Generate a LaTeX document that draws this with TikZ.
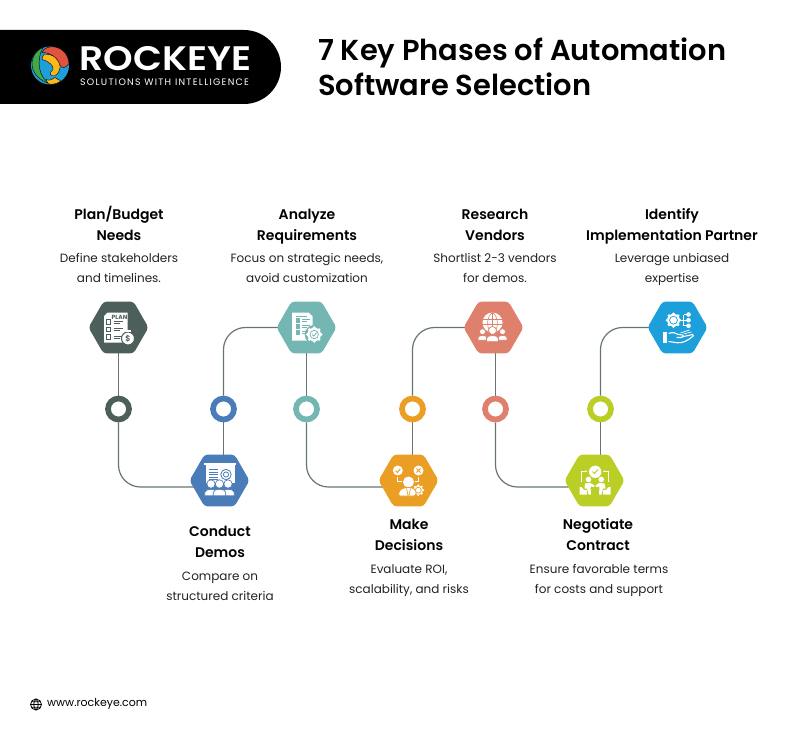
\documentclass[tikz,border=0pt]{standalone}
\usepackage{fontspec}
\setmainfont{Poppins}
\newfontfamily\semibold{Poppins SemiBold}
\usetikzlibrary{shapes.geometric,arrows.meta,backgrounds}
\definecolor{planGrey}{HTML}{4D5F5A}
\definecolor{demoBlue}{HTML}{4A7DB8}
\definecolor{reqTeal}{HTML}{74B6B2}
\definecolor{decOrange}{HTML}{EA9E24}
\definecolor{venSalmon}{HTML}{DF806C}
\definecolor{conLime}{HTML}{BBCE25}
\definecolor{parBlue}{HTML}{1C9FDB}
\definecolor{lineGrey}{HTML}{66766F}
\definecolor{bodyInk}{HTML}{222222}
\definecolor{logoRed}{HTML}{E2533F}
\definecolor{logoGreen}{HTML}{45A848}
\definecolor{logoGold}{HTML}{FBB91C}
\tikzset{
  hexnode/.style={regular polygon,regular polygon sides=6,minimum size=60pt,inner sep=0pt,outer sep=0pt,rounded corners=3.5pt,fill=#1},
  ringnode/.style={circle,draw=#1,line width=5.7pt,fill=white,minimum size=21pt,inner sep=0pt,outer sep=2.8pt},
  headnode/.style={font=\semibold\fontsize{14}{21}\selectfont,align=center,text=black,anchor=base},
  bodynode/.style={font=\fontsize{12}{19.3}\selectfont,align=center,text=bodyInk,anchor=base},
  linkline/.style={lineGrey,line width=1.2pt,rounded corners=22pt},
  iconline/.style={white,line width=1.1pt},
  logopart/.style={fill=#1,draw=black,line width=.4pt}
}
% one person: head and shoulders, ringed in the colour of the hexagon
\newcommand{\bustfig}[4]{%
  \fill[white,draw=#4,line width=.7pt] (#1,#2) circle[radius=#3];
  \fill[white,draw=#4,line width=.7pt] (#1-#3*1.5,#2+#3*2.8) -- (#1-#3*1.5,#2+#3*2) .. controls (#1-#3*1.5,#2+#3*1) and (#1+#3*1.5,#2+#3*1) .. (#1+#3*1.5,#2+#3*2) -- (#1+#3*1.5,#2+#3*2.8) -- cycle;}
\newcommand{\gearfig}[4]{%
  \fill[white] (#1,#2) circle[radius=#3];
  \foreach \a in {0,45,...,315}
    \fill[white] ([shift={(#1,#2)}]\a:#3) circle[radius=#3*.24];
  \draw[#4,line width=.7pt] (#1,#2) circle[radius=#3*.62];}
\begin{document}
\begin{tikzpicture}[x=1pt,y=-1pt]
  \useasboundingbox (0,0) rectangle (802,741);
  % banner
  \fill[black] (0,30) -- (244,30) arc[start angle=-90,end angle=90,radius=37] -- (0,104) -- cycle;
  \begin{scope}[shift={(50,65.5)}]
    \fill[parBlue] (0,0) circle[radius=19];
    \fill[logopart=logoGreen] (-7,-18) .. controls (-22,-12) and (-24,12) .. (2,19) .. controls (-12,14) and (-14,-6) .. (-7,-18) -- cycle;
    \fill[logopart=logoGold] (-6,-11) .. controls (4,-12) and (11,-6) .. (10,2) .. controls (9,8) and (6,11) .. (2,10) .. controls (-1,9) and (0,7) .. (3,4) .. controls (4,1) and (0,-4) .. (-8,-6) .. controls (-8,-8) and (-7,-10) .. (-6,-11) -- cycle;
    \fill[logopart=logoRed] (-8,-13) .. controls (-5,-22) and (17,-22) .. (19,-2) .. controls (16,3) and (12,3) .. (10,0) .. controls (8,-8) and (0,-13) .. (-8,-13) -- cycle;
    \fill[logopart=logoGold] (-4,14) .. controls (0,16) and (3,13) .. (5,12) .. controls (7,13) and (9,15) .. (11,15.5) .. controls (6,19) and (0,19.5) .. (-2,18) -- cycle;
  \end{scope}
  \node[white,font=\semibold\fontsize{34}{34}\selectfont,anchor=west,inner sep=0pt] (brand) at (79.5,59) {\scalebox{1.107}[1]{ROCKEYE}};
  \node[white,font=\fontsize{9.4}{10}\selectfont,anchor=west,inner sep=0pt] (tagline) at (80,82) {\addfontfeatures{LetterSpace=13.5}SOLUTIONS WITH INTELLIGENCE};
  \node[font=\semibold\fontsize{28.9}{35}\selectfont,anchor=west,align=left,inner sep=0pt] (title) at (318,67) {7 Key Phases of Automation\\Software Selection};
  % phases
  \node[hexnode=planGrey] (plan) at (118.5,327.5) {};
  \node[hexnode=demoBlue] (demos) at (219.5,480.5) {};
  \node[hexnode=reqTeal] (reqs) at (306.5,327.5) {};
  \node[hexnode=decOrange] (decide) at (408.5,480.5) {};
  \node[hexnode=venSalmon] (vendors) at (493.5,327.5) {};
  \node[hexnode=conLime] (contract) at (594.5,480.5) {};
  \node[hexnode=parBlue] (partner) at (677.5,327.5) {};
  \foreach \n/\x/\c in {ringa/118.5/planGrey,ringb/223.5/demoBlue,ringc/306.5/reqTeal,ringd/412.5/decOrange,ringe/495.5/venSalmon,ringf/600.5/conLime}
    \node[ringnode=\c] (\n) at (\x,409) {};
  % connectors
  \begin{scope}[on background layer]
    \draw[linkline] (plan.south) -- (ringa.north);
    \draw[linkline] (ringa.south) |- ([yshift=-6.5pt]demos.center);
    \draw[linkline] (ringb.south) -- (ringb.south |- demos.north);
    \draw[linkline] (ringb.north) |- (reqs.center);
    \draw[linkline] (reqs.south) -- (ringc.north);
    \draw[linkline] (ringc.south) |- ([yshift=-6.5pt]decide.center);
    \draw[linkline] (ringd.south) -- (ringd.south |- decide.north);
    \draw[linkline] (ringd.north) |- (vendors.center);
    \draw[linkline] (ringe.north |- vendors.south) -- (ringe.north);
    \draw[linkline] (ringe.south) |- ([yshift=-6.5pt]contract.center);
    \draw[linkline] (ringf.south) -- (ringf.south |- contract.north);
    \draw[linkline] (ringf.north) |- (partner.center);
  \end{scope}
  % plan icon
  \begin{scope}[shift={(plan.center)}]
    \fill[white] (-11,-15) -- (9,-15) -- (9,15) -- (-14.5,15) -- (-14.5,-11.5) -- cycle;
    \node[text=planGrey,font=\bfseries\fontsize{6}{6}\selectfont,inner sep=0pt] (plantag) at (1,-10.5) {PLAN};
    \foreach \y in {-5.5,2,9.5} {
      \draw[planGrey,line width=.9pt] (-12.5,\y-2.4) rectangle (-7.8,\y+2.4);
      \draw[planGrey,line width=1pt] (-5,\y-1) -- (4,\y-1) (-5,\y+1.4) -- (1,\y+1.4);
    }
    \fill[white,draw=planGrey,line width=1pt] (9.5,11) circle[radius=6.5];
    \node[text=planGrey,font=\semibold\fontsize{8}{8}\selectfont,inner sep=0pt] (plancoin) at (9.5,11) {\$};
    \fill[white] (7,2.5) rectangle (12,4.5);
  \end{scope}
  % demo icon
  \begin{scope}[shift={(demos.center)}]
    \fill[white] (-16,-17.5) rectangle (16.5,-15.5);
    \fill[white] (-13.5,-15.5) rectangle (15,2.5);
    \foreach \y in {-11,-8.5,-6,-3.5,-1}
      \draw[demoBlue,line width=.7pt] (-11,\y) -- (-1.5,\y);
    \draw[demoBlue,line width=.8pt] (6.5,-6) circle[radius=5.2] circle[radius=2.6];
    \bustfig{-8.5}{3.5}{4.2}{demoBlue}
    \bustfig{8.5}{3.5}{4.2}{demoBlue}
    \bustfig{0}{3.5}{4.2}{demoBlue}
  \end{scope}
  % requirements icon
  \begin{scope}[shift={(reqs.center)}]
    \fill[white] (-14.5,-15) -- (2,-15) -- (6,-11) -- (6,13) -- (-14.5,13) -- cycle;
    \draw[reqTeal,line width=1pt] (-11,-11.3) -- (0,-11.3);
    \foreach \y in {-7,-1,5} {
      \fill[reqTeal] (-11,\y-2.2) rectangle (-6.7,\y+2.2);
      \draw[reqTeal,line width=1pt] (-4.5,\y-1) -- (3,\y-1) (-4.5,\y+1) -- (0,\y+1);
    }
    \fill[reqTeal] (7.7,7) circle[radius=9.5];
    \gearfig{7.7}{7}{6.8}{reqTeal}
    \draw[reqTeal,line width=.8pt] (5.6,7) -- (7.2,8.6) -- (10,5.4);
  \end{scope}
  % decision icon
  \begin{scope}[shift={(decide.center)}]
    \fill[white] (-10.7,-10) circle[radius=5] (10,-10) circle[radius=5];
    \draw[decOrange,line width=1pt] (-13,-10) -- (-11,-8) -- (-8.2,-11.8);
    \draw[decOrange,line width=1pt] (8,-12) -- (12,-8) (12,-12) -- (8,-8);
    \draw[iconline,line width=.8pt] (-10.7,-3.5) -- (-10.7,1.3) -- (-6.7,1.3);
    \draw[iconline,line width=.8pt] (10,-3.5) -- (10,1.3) -- (6,1.3);
    \gearfig{9.8}{9.7}{4.8}{decOrange}
    \fill[white] (0,1.5) circle[radius=5.5];
    \fill[white,draw=decOrange,line width=.7pt,rounded corners=2.5pt] (-10.5,15.5) -- (-8.5,9) -- (-3,7) -- (3,7) -- (7.5,9.5) -- (7.5,15.5) -- cycle;
    \draw[decOrange,line width=.7pt] (-2,8) -- (-0.5,15) (2,8) -- (0.5,15);
  \end{scope}
  % vendor icon
  \begin{scope}[shift={(vendors.center)}]
    \fill[white] (-1,-5) circle[radius=10];
    \draw[venSalmon,line width=.6pt] (-1,-15) -- (-1,2) (-10.5,-8) -- (8.5,-8) (-10.5,-3) -- (8.5,-3)
      (-1,-15) .. controls (-7,-11) and (-7,-1) .. (-4,3) (-1,-15) .. controls (5,-11) and (5,-1) .. (2,3);
    \bustfig{-11}{4.2}{3}{venSalmon}
    \bustfig{9}{4.2}{3}{venSalmon}
    \bustfig{-1}{3}{4}{venSalmon}
  \end{scope}
  % contract icon
  \begin{scope}[shift={(contract.center)}]
    \fill[white] (0.7,-8.7) circle[radius=6.2];
    \draw[conLime,line width=1pt] (-2,-9) -- (0,-7) -- (3.5,-11);
    \draw[white,line width=.7pt,-{Stealth[length=2.4pt]}] (-12.7,1.5) -- (-12.7,-9.3) -- (-7,-9.3);
    \draw[white,line width=.7pt,-{Stealth[length=2.4pt]}] (14,1.5) -- (14,-9.3) -- (8.3,-9.3);
    \fill[white] (-6,-1) circle[radius=2.8] (6.7,-1) circle[radius=2.8];
    \fill[white] (-9.5,3) -- (-4,2.5) -- (0,5) -- (-0.5,6.5) -- (-4,6) -- (-3.5,14) -- (-6,14) -- (-7.5,8) -- (-10,8) -- cycle;
    \fill[white] (10,3) -- (4.5,2.5) -- (1,5) -- (1.5,6.5) -- (5,6) -- (4.5,14) -- (7,14) -- (8.5,8) -- (11,8) -- cycle;
    \fill[white] (-15,6.5) -- (-13,6.5) -- (-10.5,9.5) -- (-7.7,9.5) -- (-7.7,14) -- (-15,14) -- cycle;
    \fill[white] (16,6.5) -- (14,6.5) -- (11.5,9.5) -- (8.7,9.5) -- (8.7,14) -- (16,14) -- cycle;
  \end{scope}
  % partner icon
  \begin{scope}[shift={(partner.center)}]
    \draw[white,line width=.8pt] (3,-7.3) -- (6,-7.3) (6,-13) -- (6,-1.7) (6,-13) -- (11,-13) (6,-1.7) -- (11,-1.7) (6,-7.3) -- (11,-7.3);
    \gearfig{-4}{-7.3}{6.4}{parBlue}
    \fill[white] (-4,-7.3) circle[radius=1.6];
    \fill[white] (11,-13) circle[radius=2.3] (11,-7.3) circle[radius=2.3] (11,-1.7) circle[radius=2.3];
    \fill[white] (-15,4.3) rectangle (-10.7,15.3);
    \draw[iconline,line join=round] (-9,6) .. controls (-5,4.5) and (-2,5) .. (1,7) -- (5,7.5) .. controls (7,8) and (6,10) .. (4,10) -- (-1,10)
      (4,9.5) -- (15,7) .. controls (16.5,7.5) and (16,9) .. (14.5,9.5) .. controls (10,13) and (6,15.5) .. (0,15.3) -- (-9,14);
    \draw[white,line width=.7pt] (3,5.5) -- (12,2.5) (6,6.5) -- (14,4.5);
  \end{scope}
  % captions
  \node[headnode] (planhead) at (119,240) {Plan/Budget\\Needs};
  \node[bodynode] (plantext) at (119,282) {Define stakeholders\\and timelines.};
  \node[headnode] (reqshead) at (307,240) {Analyze\\Requirements};
  \node[bodynode] (reqstext) at (307,282) {Focus on strategic needs,\\avoid customization};
  \node[headnode] (venhead) at (495,240) {Research\\Vendors};
  \node[bodynode] (ventext) at (495,282) {Shortlist 2-3 vendors\\for demos.};
  \node[headnode] (parthead) at (672,240) {Identify\\Implementation Partner};
  \node[bodynode] (parttext) at (672,282) {Leverage unbiased\\expertise};
  \node[headnode] (demohead) at (220,557) {Conduct\\Demos};
  \node[bodynode] (demotext) at (220,600) {Compare on\\structured criteria};
  \node[headnode] (dechead) at (409,550) {Make\\Decisions};
  \node[bodynode] (dectext) at (409,593) {Evaluate ROI,\\scalability, and risks};
  \node[headnode] (conhead) at (598,550) {Negotiate\\Contract};
  \node[bodynode] (context) at (599,593) {Ensure favorable terms\\for costs and support};
  % footer
  \draw[black,line width=.8pt] (36,704.5) circle[radius=5.5] (30.5,704.5) -- (41.5,704.5) (31.3,701.7) -- (40.7,701.7) (31.3,707.3) -- (40.7,707.3);
  \draw[black,line width=.8pt] (36,699) .. controls (33,702) and (33,707) .. (36,710) .. controls (39,707) and (39,702) .. (36,699) -- cycle;
  \node[font=\fontsize{11}{12}\selectfont,anchor=west,inner sep=0pt] (weblink) at (47,704) {www.rockeye.com};
\end{tikzpicture}
\end{document}
